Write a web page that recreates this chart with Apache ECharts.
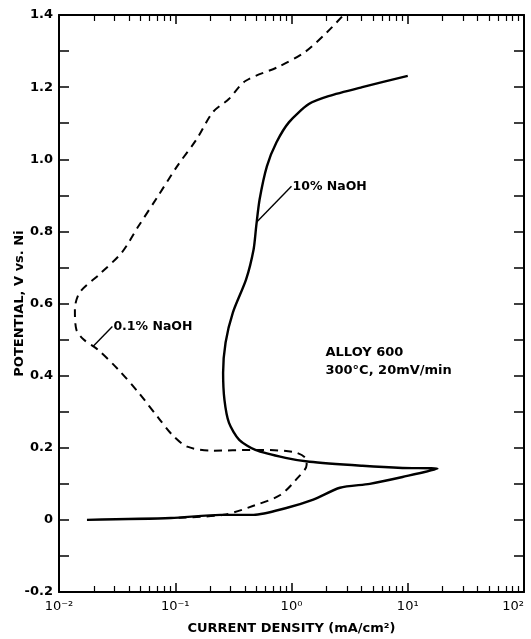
<!DOCTYPE html>
<html>
<head>
<meta charset="utf-8">
<script src="https://cdn.jsdelivr.net/npm/echarts@6/dist/echarts.min.js"></script>
<style>html,body{margin:0;padding:0;background:#fff}#c{width:531px;height:639px}</style>
</head>
<body>
<div id="c"></div>
<script>
// 10% NaOH (solid) : [current density mA/cm2, potential V]
const naoh10 = [
  [0.0174,0.000],[0.0917,0.005],[0.246,0.014],[0.472,0.014],[0.903,0.033],[1.54,0.056],
  [2.61,0.089],[4.71,0.100],[9.02,0.119],[18.0,0.142],
  [9.0,0.144],[4.08,0.150],[1.43,0.161],[0.889,0.172],[0.489,0.194],[0.355,0.222],
  [0.290,0.269],[0.265,0.333],[0.258,0.408],[0.271,0.492],[0.313,0.575],[0.407,0.667],
  [0.472,0.750],[0.497,0.814],[0.532,0.889],[0.615,0.981],[0.743,1.047],[0.953,1.103],
  [1.41,1.153],[2.08,1.175],[4.06,1.200],[10.0,1.231]
];
// 0.1% NaOH (dashed)
const naoh01 = [
  [0.107,0.006],[0.261,0.014],[0.471,0.039],[0.80,0.069],[1.09,0.111],[1.35,0.153],
  [1.32,0.172],[1.02,0.189],[0.461,0.194],[0.209,0.192],[0.127,0.203],[0.094,0.236],
  [0.0724,0.281],[0.0483,0.353],[0.0323,0.417],[0.0216,0.472],[0.0163,0.500],[0.0141,0.528],
  [0.0137,0.583],[0.0151,0.631],[0.0223,0.681],[0.0348,0.742],[0.0482,0.814],[0.0708,0.897],
  [0.104,0.981],[0.153,1.056],[0.211,1.131],[0.289,1.167],[0.401,1.217],[0.766,1.256],
  [1.30,1.297],[2.03,1.353],[2.80,1.400]
];
const leader10 = [[0.50,0.825],[1.0,0.925]];
const leader01 = [[0.0195,0.480],[0.0288,0.536]];
const label10 = '10% NaOH';
const label01 = '0.1% NaOH';
const notePos = [[1.96,0.439]];
const noteLines = ['ALLOY 600','300°C, 20mV/min'];
const xTickLabels = {'-2':'10⁻²','-1':'10⁻¹','0':'10⁰','1':'10¹','2':'10²'};
const yTickLabels = {'-0.2':'-0.2','0':'0','0.2':'0.2','0.4':'0.4','0.6':'0.6','0.8':'0.8','1':'1.0','1.2':'1.2','1.4':'1.4'};

const FONT = 'DejaVu Sans';
const axisLineStyle = {color:'#000', width:2};
const chart = echarts.init(document.getElementById('c'));
const xBase = {
  type:'log', logBase:10, min:0.01, max:100,
  axisLine:{show:true, onZero:false, lineStyle:axisLineStyle},
  axisTick:{show:true, inside:true, length:9, lineStyle:{color:'#000', width:1.5}},
  minorTick:{show:true, splitNumber:9, length:6, lineStyle:{color:'#000', width:1.2}},
  splitLine:{show:false}, minorSplitLine:{show:false}
};
const yBase = {
  type:'value', min:-0.2, max:1.4, interval:0.2,
  axisLine:{show:true, onZero:false, lineStyle:axisLineStyle},
  axisTick:{show:true, inside:true, length:10, lineStyle:{color:'#000', width:1.5}},
  minorTick:{show:true, splitNumber:2, length:10, lineStyle:{color:'#000', width:1.5}},
  splitLine:{show:false}
};
chart.setOption({
  animation:false,
  backgroundColor:'#fff',
  grid:{left:59, right:7, top:15, bottom:47, containLabel:false, outerBoundsMode:'none'},
  xAxis:[
    Object.assign({}, xBase, {
      position:'bottom',
      axisLabel:{color:'#000', fontFamily:FONT, fontSize:13, margin:8, alignMaxLabel:'right',
        formatter:v=>{const k=String(Math.round(Math.log10(v)));return xTickLabels[k]||'';}},
      name:'CURRENT DENSITY (mA/cm²)', nameLocation:'middle', nameGap:30, nameMoveOverlap:false,
      nameTextStyle:{color:'#000', fontFamily:FONT, fontSize:13, fontWeight:'bold'}
    }),
    Object.assign({}, xBase, {position:'top', axisLabel:{show:false}})
  ],
  yAxis:[
    Object.assign({}, yBase, {
      position:'left',
      axisLabel:{color:'#000', fontFamily:FONT, fontSize:13, fontWeight:'bold', margin:6,
        formatter:v=>{const k=String(Math.round(v*10)/10);return yTickLabels[k]!==undefined?yTickLabels[k]:'';}},
      name:'POTENTIAL, V vs. Ni', nameLocation:'middle', nameGap:33, nameMoveOverlap:false,
      nameTextStyle:{color:'#000', fontFamily:FONT, fontSize:13, fontWeight:'bold'}
    }),
    Object.assign({}, yBase, {position:'right', axisLabel:{show:false}})
  ],
  series:[
    {type:'line', data:naoh10, showSymbol:false, symbol:'none', smooth:0.25,
     lineStyle:{color:'#000', width:2.4}},
    {type:'line', data:naoh01, showSymbol:false, symbol:'none', smooth:0.3,
     lineStyle:{color:'#000', width:2, type:[8,6]}},
    {type:'line', data:leader10, showSymbol:false, symbol:'none',
     lineStyle:{color:'#000', width:1.4},
     endLabel:{show:true, formatter:label10, distance:1, color:'#000', fontFamily:FONT, fontSize:12.5, fontWeight:'bold'}},
    {type:'line', data:leader01, showSymbol:false, symbol:'none',
     lineStyle:{color:'#000', width:1.4},
     endLabel:{show:true, formatter:label01, distance:1, color:'#000', fontFamily:FONT, fontSize:12.5, fontWeight:'bold'}},
    {type:'scatter', data:notePos, symbolSize:0, silent:true,
     itemStyle:{opacity:1, color:'#000'},
     label:{show:true, position:'right', distance:0, formatter:noteLines.join('\n'), lineHeight:18,
       color:'#000', fontFamily:FONT, fontSize:13, fontWeight:'bold', align:'left'}}
  ]
});
</script>
</body>
</html>
